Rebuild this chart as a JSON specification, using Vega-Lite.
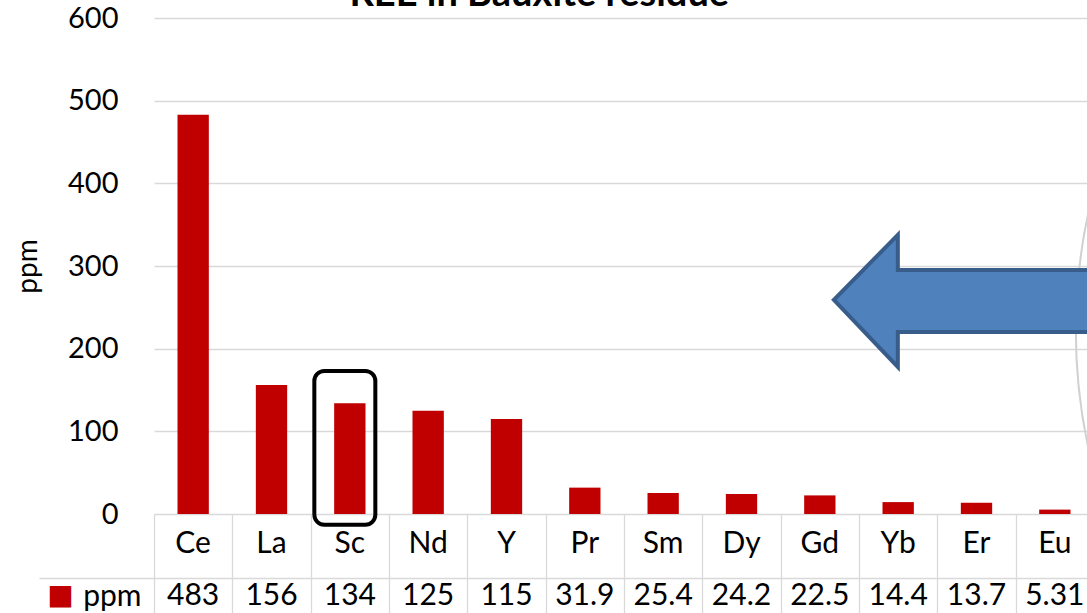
{
  "$schema": "https://vega.github.io/schema/vega-lite/v6.json",
  "padding": {"left": 14, "top": -25, "right": 0, "bottom": 0},
  "background": "white",
  "config": {
    "font": "Lato",
    "view": {"stroke": null},
    "axis": {"labelFont": "Lato", "titleFont": "Lato"}
  },
  "title": {
    "text": "REE in Bauxite residue",
    "font": "Lato",
    "fontSize": 38,
    "fontWeight": "bold",
    "color": "#000000",
    "anchor": "middle",
    "frame": "bounds",
    "baseline": "alphabetic",
    "offset": -39.5,
    "dx": -15
  },
  "datasets": {
    "ree": [
      {"element": "Ce", "ppm": 483},
      {"element": "La", "ppm": 156},
      {"element": "Sc", "ppm": 134},
      {"element": "Nd", "ppm": 125},
      {"element": "Y", "ppm": 115},
      {"element": "Pr", "ppm": 31.9},
      {"element": "Sm", "ppm": 25.4},
      {"element": "Dy", "ppm": 24.2},
      {"element": "Gd", "ppm": 22.5},
      {"element": "Yb", "ppm": 14.4},
      {"element": "Er", "ppm": 13.7},
      {"element": "Eu", "ppm": 5.31}
    ],
    "box": [{"element": "Sc", "top": 173, "bottom": -13}],
    "arrow": [{"element": "Gd", "y": 259}],
    "disc": [{"element": "Eu", "y": 222}]
  },
  "spacing": 0,
  "bounds": "flush",
  "resolve": {"scale": {"x": "independent"}},
  "vconcat": [
    {
      "width": 934,
      "height": 496,
      "layer": [
        {
          "data": {"name": "ree"},
          "mark": {"type": "bar", "color": "#C00000"},
          "encoding": {
            "x": {
              "field": "element", "type": "nominal", "sort": null, "axis": null,
              "scale": {"domain": ["Ce","La","Sc","Nd","Y","Pr","Sm","Dy","Gd","Yb","Er","Eu"], "range": [0, 940], "paddingInner": 0.6, "paddingOuter": 0.3}
            },
            "y": {
              "field": "ppm", "type": "quantitative",
              "scale": {"domain": [0, 600]},
              "axis": {
                "values": [0, 100, 200, 300, 400, 500, 600],
                "grid": true, "gridColor": "#d9d9d9", "gridWidth": 1.3,
                "ticks": false, "domain": false,
                "labelFontSize": 29, "labelColor": "#000000", "labelPadding": 36,
                "title": "ppm", "titleFontSize": 28, "titleFontWeight": "normal", "titleColor": "#000000", "titlePadding": 25
              }
            }
          }
        },
        {
          "data": {"name": "box"},
          "mark": {"type": "bar", "width": 61, "fillOpacity": 0, "stroke": "#000000", "strokeWidth": 4, "cornerRadius": 10, "xOffset": -5},
          "encoding": {
            "x": {"field": "element", "type": "nominal"},
            "y": {"field": "top", "type": "quantitative"},
            "y2": {"field": "bottom"}
          }
        },
        {
          "data": {"name": "disc"},
          "mark": {"type": "point", "shape": "M21,0 A550,550 0 1,1 1121,0 A550,550 0 1,1 21,0 Z", "size": 4, "filled": false, "stroke": "#d0d0d0", "strokeWidth": 2, "opacity": 1, "clip": true},
          "encoding": {
            "x": {"field": "element", "type": "nominal"},
            "y": {"field": "y", "type": "quantitative"}
          }
        },
        {
          "data": {"name": "arrow"},
          "mark": {"type": "point", "shape": "M14,0 L78,-65 L78,-30 L400,-30 L400,32 L78,32 L78,67 Z", "size": 4, "filled": true, "fill": "#4F81BD", "stroke": "#385D8A", "strokeWidth": 4, "opacity": 1, "clip": true},
          "encoding": {
            "x": {"field": "element", "type": "nominal"},
            "y": {"field": "y", "type": "quantitative"}
          }
        }
      ]
    },
    {
      "width": 934,
      "height": 99,
      "data": {"name": "ree"},
      "encoding": {
        "x": {
          "field": "element", "type": "nominal", "sort": null,
          "scale": {"domain": ["Ce","La","Sc","Nd","Y","Pr","Sm","Dy","Gd","Yb","Er","Eu"], "range": [0, 940], "paddingInner": 0, "paddingOuter": 0},
          "axis": {"orient": "top", "grid": true, "gridColor": "#d9d9d9", "gridWidth": 1.3, "tickBand": "extent", "labels": false, "ticks": false, "domain": false, "title": null}
        }
      },
      "layer": [
        {
          "mark": {"type": "text", "fontSize": 30, "font": "Lato", "color": "#000000", "baseline": "middle", "dy": -2},
          "encoding": {
            "y": {
              "datum": "name", "type": "nominal",
              "scale": {"type": "band", "domain": ["name", "ppm"], "range": [0, 128], "paddingInner": 0, "paddingOuter": 0},
              "axis": {
                "values": ["ppm"], "tickBand": "extent",
                "grid": true, "gridColor": "#d9d9d9", "gridWidth": 1.3,
                "ticks": true, "tickSize": 115, "tickColor": "#d9d9d9", "tickWidth": 1.3,
                "domain": false,
                "labelFontSize": 30, "labelColor": "#000000", "labelOffset": -14, "labelPadding": -102, "labelBaseline": "middle",
                "title": "■", "titleColor": "#C00000", "titleFontSize": 28, "titleFont": "DejaVu Sans", "titleFontWeight": "normal",
                "titleAngle": 0, "titleX": -94, "titleY": 81, "titleAlign": "center", "titleBaseline": "middle"
              }
            },
            "text": {"field": "element", "type": "nominal"}
          }
        },
        {
          "mark": {"type": "text", "fontSize": 30, "font": "Lato", "color": "#000000", "baseline": "middle", "dy": -14},
          "encoding": {
            "y": {"datum": "ppm", "type": "nominal"},
            "text": {"field": "ppm", "type": "quantitative", "format": ".3r"}
          }
        }
      ]
    }
  ]
}
